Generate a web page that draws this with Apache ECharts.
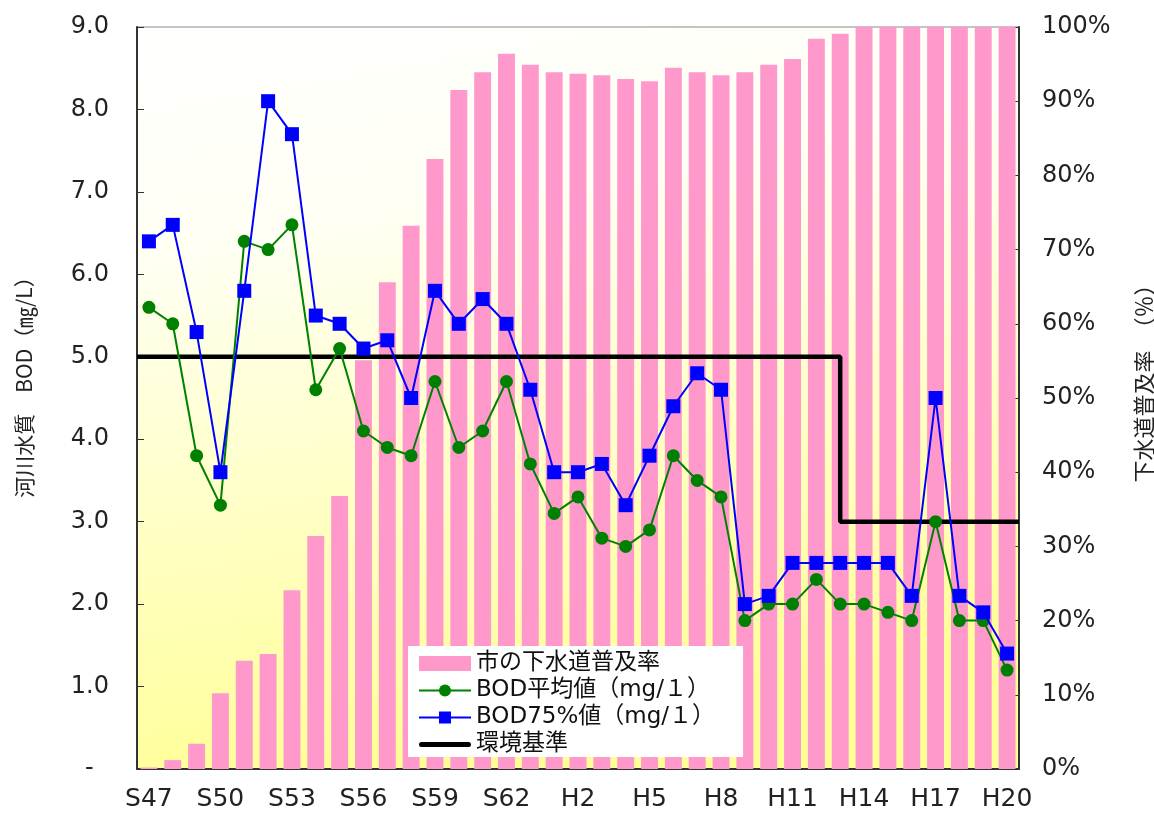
<!DOCTYPE html>
<html>
<head>
<meta charset="utf-8">
<script src="https://cdn.jsdelivr.net/npm/echarts@6/dist/echarts.min.js"></script>
<style>html,body{margin:0;padding:0;background:#fff}#c{width:1154px;height:814px}</style>
</head>
<body>
<div id="c"></div>
<script>
const categories = ['S47','S48','S49','S50','S51','S52','S53','S54','S55','S56','S57','S58','S59','S60','S61','S62','S63',
  'H1','H2','H3','H4','H5','H6','H7','H8','H9','H10','H11','H12','H13','H14','H15','H16','H17','H18','H19','H20'];
const sewerRate = [0.2,1.2,3.4,10.2,14.6,15.5,24.1,31.4,36.8,55.1,65.6,73.2,82.2,91.5,93.9,96.4,94.9,
  93.9,93.7,93.5,93.0,92.7,94.5,93.9,93.5,93.9,94.9,95.7,98.4,99.1,100,100,100,100,100,100,100];
const bodMean = [5.6,5.4,3.8,3.2,6.4,6.3,6.6,4.6,5.1,4.1,3.9,3.8,4.7,3.9,4.1,4.7,3.7,
  3.1,3.3,2.8,2.7,2.9,3.8,3.5,3.3,1.8,2.0,2.0,2.3,2.0,2.0,1.9,1.8,3.0,1.8,1.8,1.2];
const bod75 = [6.4,6.6,5.3,3.6,5.8,8.1,7.7,5.5,5.4,5.1,5.2,4.5,5.8,5.4,5.7,5.4,4.6,
  3.6,3.6,3.7,3.2,3.8,4.4,4.8,4.6,2.0,2.1,2.5,2.5,2.5,2.5,2.5,2.1,4.5,2.1,1.9,1.4];
// environmental standard (category-position, mg/L)
const stdX = [0, 29.5, 29.5, 37];
const stdY = [5, 5, 3, 3];
const leftTicks = {min: 0, max: 9, interval: 1};
const rightTicks = {min: 0, max: 100, interval: 10};
const names = ['市の下水道普及率', 'BOD平均値（mg/１）', 'BOD75%値（mg/１）', '環境基準'];
const leftName = '河川水質　BOD（㎎/L）';
const rightName = '下水道普及率　（％）';

const FONT = '"DejaVu Sans","Noto Sans CJK JP",sans-serif';
const JFONT = '"Noto Sans CJK JP",sans-serif';
const chart = echarts.init(document.getElementById('c'), null, {renderer: 'canvas'});
chart.setOption({
  animation: false,
  backgroundColor: '#fff',
  grid: {
    left: 137, right: 135, top: 27, bottom: 45,
    show: true, borderColor: '#888', borderWidth: 1,
    backgroundColor: new echarts.graphic.LinearGradient(0, 0, 0.15, 1, [
      {offset: 0, color: '#ffffff'},
      {offset: 0.3, color: '#fffff4'},
      {offset: 1, color: '#ffff99'}
    ])
  },
  xAxis: [{
    type: 'category', data: categories, boundaryGap: true,
    axisLine: {lineStyle: {color: '#333', width: 2}},
    axisTick: {inside: true, interval: 0, length: 6, lineStyle: {color: '#333', width: 1}},
    axisLabel: {interval: 2, fontSize: 25, margin: 18, color: '#222', fontFamily: FONT}
  }, {
    type: 'value', min: 0, max: 37, show: false
  }],
  yAxis: [{
    type: 'value', min: leftTicks.min, max: leftTicks.max, interval: leftTicks.interval,
    axisLine: {show: true, lineStyle: {color: '#333', width: 2}},
    axisTick: {show: true, inside: true, length: 7, lineStyle: {color: '#333'}},
    splitLine: {show: false},
    axisLabel: {fontSize: 24, margin: 28, color: '#222', fontFamily: FONT,
      formatter: v => v === 0 ? '-  ' : v.toFixed(1)}
  }, {
    type: 'value', position: 'right', min: rightTicks.min, max: rightTicks.max, interval: rightTicks.interval,
    axisLine: {show: true, lineStyle: {color: '#333', width: 2}},
    axisTick: {show: true, inside: true, length: 7, lineStyle: {color: '#333'}},
    splitLine: {show: false},
    axisLabel: {fontSize: 24, margin: 23, color: '#222', fontFamily: FONT, formatter: v => v + '%'}
  }],
  legend: {
    orient: 'vertical', left: 408, top: 646,
    backgroundColor: '#fff', padding: [6, 28, 1, 10],
    itemWidth: 52, itemHeight: 15, itemGap: 4,
    textStyle: {fontSize: 23, color: '#111', fontFamily: FONT},
    data: [
      {name: names[0], icon: 'rect'},
      {name: names[1]},
      {name: names[2]},
      {name: names[3], icon: 'path://M2.5,0 L49.5,0 A2.5,2.5 0 0 1 49.5,5 L2.5,5 A2.5,2.5 0 0 1 2.5,0 Z'}
    ]
  },
  graphic: [
    {type: 'text', x: 24, y: 382, rotation: Math.PI / 2,
      style: {text: leftName, fontSize: 21, fill: '#222', fontFamily: JFONT,
        align: 'center', verticalAlign: 'middle'}},
    {type: 'text', x: 1144, y: 378, rotation: Math.PI / 2,
      style: {text: rightName, fontSize: 22, fill: '#222', fontFamily: JFONT,
        align: 'center', verticalAlign: 'middle'}}
  ],
  series: [{
    name: names[0], type: 'bar', xAxisIndex: 0, yAxisIndex: 1, data: sewerRate,
    barCategoryGap: '29%', itemStyle: {color: '#ff99cc'}, z: 1
  }, {
    name: names[3], type: 'line', xAxisIndex: 1, yAxisIndex: 0,
    data: stdX.map((x, i) => [x, stdY[i]]), showSymbol: false, symbol: 'none',
    lineStyle: {color: '#000', width: 4.5}, itemStyle: {color: '#000'}, z: 2
  }, {
    name: names[1], type: 'line', xAxisIndex: 0, yAxisIndex: 0, data: bodMean,
    symbol: 'circle', symbolSize: 13, lineStyle: {color: '#008000', width: 2},
    itemStyle: {color: '#008000'}, z: 3
  }, {
    name: names[2], type: 'line', xAxisIndex: 0, yAxisIndex: 0, data: bod75,
    symbol: 'rect', symbolSize: 14, lineStyle: {color: '#0000ff', width: 2},
    itemStyle: {color: '#0000ff'}, z: 4
  }]
});
</script>
</body>
</html>
